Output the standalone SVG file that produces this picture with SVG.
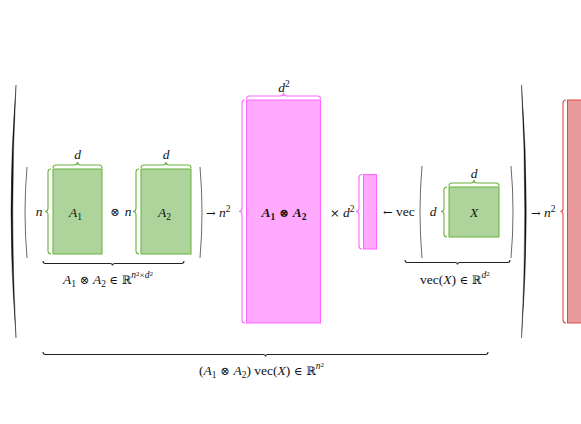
<svg xmlns="http://www.w3.org/2000/svg" width="581" height="424" viewBox="0 0 581 424">
<defs>
<style>
.g{fill:#aed49c;stroke:#66b23a;stroke-width:1}
.gb{fill:none;stroke:#66b23a;stroke-width:1.1}
.p{fill:#ffaaff;stroke:#ff66ff;stroke-width:1}
.pb{fill:none;stroke:#ff66ff;stroke-width:1.1}
.r{fill:#e89a9a;stroke:#e04848;stroke-width:1}
.rb{fill:none;stroke:#e04848;stroke-width:1.1}
.kb{fill:none;stroke:#222;stroke-width:1.1}
.sp{fill:none;stroke:#444;stroke-width:0.8}
.bp{fill:#111;stroke:#111;stroke-width:0.4}
text{font-family:"Liberation Serif","DejaVu Serif",serif;font-size:13.5px;fill:#111}
.m{font-style:italic}
.c{text-anchor:middle}
.s{font-size:9.5px}
.u{font-family:"DejaVu Serif","Liberation Serif",serif;font-style:normal;font-size:11.5px}
.bd{font-weight:bold}
</style>
</defs>
<g id="outer-parens">
<path class="bp" d="M16 85 Q6 211 16 338 Q9.5 211 16 85 Z"/>
<path class="bp" d="M521.5 85 Q531 211 521.5 338 Q528 211 521.5 85 Z"/>
</g>
<g id="A1">
<path class="sp" d="M27 167 Q23 212 27 258"/>
<rect class="g" x="53" y="169" width="49" height="85"/>
<path class="gb" d="M53 168 q0 -3 3 -3 L74.5 165 q3 0 3 -3 q0 3 3 3 L99 165 q3 0 3 3"/>
<path class="gb" d="M51 169 q-3 0 -3 3 L48 208.5 q0 3 -3 3 q3 0 3 3 L48 251 q0 3 3 3"/>
<text class="m c" x="77.5" y="159">d</text>
<text class="m c" x="39" y="216">n</text>
<text class="m" x="69" y="217">A<tspan class="s" dy="3" font-style="normal">1</tspan></text>
</g>
<g id="otimes">
<text class="c u" x="115" y="216">⊗</text>
</g>
<g id="A2">
<rect class="g" x="141" y="169" width="50" height="85"/>
<path class="gb" d="M141 168 q0 -3 3 -3 L163 165 q3 0 3 -3 q0 3 3 3 L188 165 q3 0 3 3"/>
<path class="gb" d="M139 169 q-3 0 -3 3 L136 208.5 q0 3 -3 3 q3 0 3 3 L136 251 q0 3 3 3"/>
<text class="m c" x="166" y="159">d</text>
<text class="m c" x="128" y="216">n</text>
<text class="m" x="158" y="217">A<tspan class="s" dy="3" font-style="normal">2</tspan></text>
<path class="sp" d="M200 167 Q204 212 200 258"/>
</g>
<g id="kron-label">
<path class="kb" d="M43 261 q0 2.5 2.5 2.5 L110 263.5 q2.5 0 2.5 2 q0 -2 2.5 -2 L181.5 263.5 q2.5 0 2.5 -2.5"/>
<text x="63" y="284"><tspan class="m">A</tspan><tspan class="s" dy="3">1</tspan><tspan class="u" dy="-3"> ⊗ </tspan><tspan class="m">A</tspan><tspan class="s" dy="3">2</tspan><tspan class="u" dy="-3"> ∈ ℝ</tspan><tspan class="s m" dy="-6">n</tspan><tspan font-size="7" dy="-2">2</tspan><tspan font-size="9" dy="2" font-family="Liberation Serif">×</tspan><tspan class="s m">d</tspan><tspan font-size="7" dy="-2">2</tspan></text>
</g>
<g id="arrow1">
<text x="206" y="217"><tspan class="u">→</tspan> <tspan class="m">n</tspan><tspan class="s" dy="-5">2</tspan></text>
</g>
<g id="kron-matrix">
<rect class="p" x="246.5" y="100" width="74" height="223"/>
<path class="pb" d="M246.5 99 q0 -3 3 -3 L280.5 96 q3 0 3 -3 q0 3 3 3 L317.5 96 q3 0 3 3"/>
<path class="pb" d="M245 100 q-3 0 -3 3 L242 208.5 q0 3 -3 3 q3 0 3 3 L242 320 q0 3 3 3"/>
<text class="c" x="284" y="92"><tspan class="m">d</tspan><tspan class="s" dy="-5">2</tspan></text>
<text class="c bd" x="284" y="217"><tspan class="m">A</tspan><tspan class="s" dy="3">1</tspan><tspan class="u" dy="-3"> ⊗ </tspan><tspan class="m">A</tspan><tspan class="s" dy="3">2</tspan></text>
</g>
<g id="times">
<text x="330" y="217"><tspan class="u" font-size="11">×</tspan> <tspan class="m">d</tspan><tspan class="s" dy="-5">2</tspan></text>
</g>
<g id="vecX-bar">
<rect class="p" x="363.5" y="174.5" width="13" height="74.5"/>
<path class="pb" d="M362 174.5 q-3 0 -3 3 L359 208.5 q0 3 -3 3 q3 0 3 3 L359 246 q0 3 3 3"/>
</g>
<g id="vec">
<text x="383" y="216"><tspan class="u">←</tspan>  vec</text>
</g>
<g id="X">
<path class="sp" d="M422 166 Q418 212 422 258"/>
<rect class="g" x="449" y="187" width="50" height="50"/>
<path class="gb" d="M449 186 q0 -3 3 -3 L471 183 q3 0 3 -3 q0 3 3 3 L496 183 q3 0 3 3"/>
<path class="gb" d="M447 187 q-3 0 -3 3 L444 208.5 q0 3 -3 3 q3 0 3 3 L444 234 q0 3 3 3"/>
<text class="m c" x="474" y="178">d</text>
<text class="m c" x="433" y="216">d</text>
<text class="m c" x="474" y="217">X</text>
<path class="sp" d="M511 166 Q515 212 511 258"/>
</g>
<g id="vec-label">
<path class="kb" d="M405 260 q0 2.5 2.5 2.5 L455 262.5 q2.5 0 2.5 2 q0 -2 2.5 -2 L507.5 262.5 q2.5 0 2.5 -2.5"/>
<text x="420" y="284">vec(<tspan class="m">X</tspan>)<tspan class="u"> ∈ ℝ</tspan><tspan class="s m" dy="-6">d</tspan><tspan font-size="7" dy="-2">2</tspan></text>
</g>
<g id="arrow2">
<text x="531" y="217"><tspan class="u">→</tspan> <tspan class="m">n</tspan><tspan class="s" dy="-5">2</tspan></text>
</g>
<g id="result">
<rect class="r" x="567.5" y="100" width="14" height="223"/>
<path class="rb" d="M566 100 q-3 0 -3 3 L563 208.5 q0 3 -2.5 3 q2.5 0 2.5 3 L563 320 q0 3 3 3"/>
</g>
<g id="total-label">
<path class="kb" d="M43 352 q0 2.5 2.5 2.5 L263 354.5 q2.5 0 2.5 2 q0 -2 2.5 -2 L485.5 354.5 q2.5 0 2.5 -2.5"/>
<text x="199" y="375">(<tspan class="m">A</tspan><tspan class="s" dy="3">1</tspan><tspan class="u" dy="-3"> ⊗ </tspan><tspan class="m">A</tspan><tspan class="s" dy="3">2</tspan><tspan dy="-3">) vec(</tspan><tspan class="m">X</tspan>)<tspan class="u"> ∈ ℝ</tspan><tspan class="s m" dy="-6">n</tspan><tspan font-size="7" dy="-2">2</tspan></text>
</g>
</svg>
